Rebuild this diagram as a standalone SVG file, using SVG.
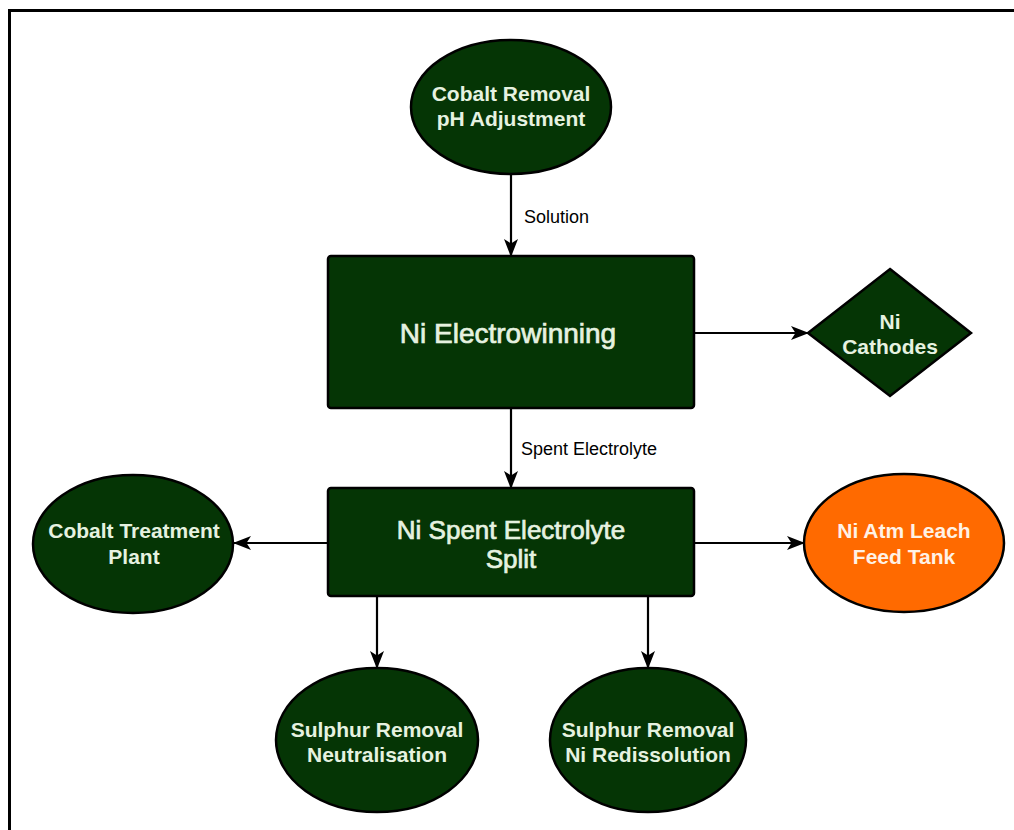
<svg xmlns="http://www.w3.org/2000/svg" width="1014" height="830" viewBox="0 0 1014 830">
  <defs>
    <marker id="arrow" viewBox="0 0 18 14" refX="17" refY="7" markerWidth="18" markerHeight="14" markerUnits="userSpaceOnUse" orient="auto">
      <path d="M0,0 L18,7 L0,14 L4.5,7 Z" fill="#000"/>
    </marker>
    <style>
      .node { fill: #053505; stroke: #000; stroke-width: 2.5; }
      .hot { fill: #ff6a00; stroke: #000; stroke-width: 2.5; }
      .lbl { font-family: "Liberation Sans", Arial, sans-serif; font-weight: bold; font-size: 21px; fill: #e6f2e0; text-anchor: middle; }
      .big { font-family: "Liberation Sans", Arial, sans-serif; font-size: 28px; fill: #e6f2e0; stroke: #e6f2e0; stroke-width: 0.7; text-anchor: middle; }
      .hotlbl { fill: #fff2e6; }
      .edge { stroke: #000; stroke-width: 2.2; fill: none; marker-end: url(#arrow); }
      .elbl { font-family: "Liberation Sans", Arial, sans-serif; font-size: 18px; fill: #000; }
    </style>
  </defs>

  <rect width="1014" height="830" fill="#fff"/>
  <!-- page frame -->
  <rect x="9.5" y="10.5" width="1100" height="900" fill="none" stroke="#000" stroke-width="3"/>

  <g id="connectors">
    <line class="edge" x1="511" y1="175" x2="511" y2="256"/>
    <text class="elbl" x="524" y="223">Solution</text>
    <line class="edge" x1="695" y1="333" x2="808" y2="333"/>
    <line class="edge" x1="511" y1="409" x2="511" y2="488"/>
    <text class="elbl" x="521" y="455">Spent Electrolyte</text>
    <line class="edge" x1="328" y1="543" x2="234" y2="543"/>
    <line class="edge" x1="695" y1="543" x2="804" y2="543"/>
    <line class="edge" x1="377" y1="597" x2="377" y2="668"/>
    <line class="edge" x1="648" y1="597" x2="648" y2="668"/>
  </g>

  <g id="cobalt-removal">
    <ellipse class="node" cx="511" cy="107" rx="100" ry="67"/>
    <text class="lbl" x="511" y="101">Cobalt Removal</text>
    <text class="lbl" x="511" y="126">pH Adjustment</text>
  </g>

  <g id="ni-electrowinning">
    <rect class="node" x="328" y="256" width="366" height="152" rx="3"/>
    <text class="big" x="508" y="343">Ni Electrowinning</text>
  </g>

  <g id="ni-cathodes">
    <polygon class="node" points="890,269 971,333 890,396 808,333"/>
    <text class="lbl" x="890" y="329">Ni</text>
    <text class="lbl" x="890" y="354">Cathodes</text>
  </g>

  <g id="spent-electrolyte-split">
    <rect class="node" x="328" y="488" width="366" height="108" rx="3"/>
    <text class="big" x="511" y="539" style="font-size:26px">Ni Spent Electrolyte</text>
    <text class="big" x="511" y="568" style="font-size:26px">Split</text>
  </g>

  <g id="cobalt-treatment-plant">
    <ellipse class="node" cx="133" cy="544" rx="100" ry="69"/>
    <text class="lbl" x="134" y="538">Cobalt Treatment</text>
    <text class="lbl" x="134" y="564">Plant</text>
  </g>

  <g id="ni-atm-leach-feed-tank">
    <ellipse class="hot" cx="904" cy="543" rx="100" ry="69"/>
    <text class="lbl hotlbl" x="904" y="538">Ni Atm Leach</text>
    <text class="lbl hotlbl" x="904" y="564">Feed Tank</text>
  </g>

  <g id="sulphur-removal-neutralisation">
    <ellipse class="node" cx="377" cy="740" rx="101" ry="72"/>
    <text class="lbl" x="377" y="737">Sulphur Removal</text>
    <text class="lbl" x="377" y="762">Neutralisation</text>
  </g>

  <g id="sulphur-removal-ni-redissolution">
    <ellipse class="node" cx="648" cy="740" rx="98" ry="72"/>
    <text class="lbl" x="648" y="737">Sulphur Removal</text>
    <text class="lbl" x="648" y="762">Ni Redissolution</text>
  </g>
</svg>
